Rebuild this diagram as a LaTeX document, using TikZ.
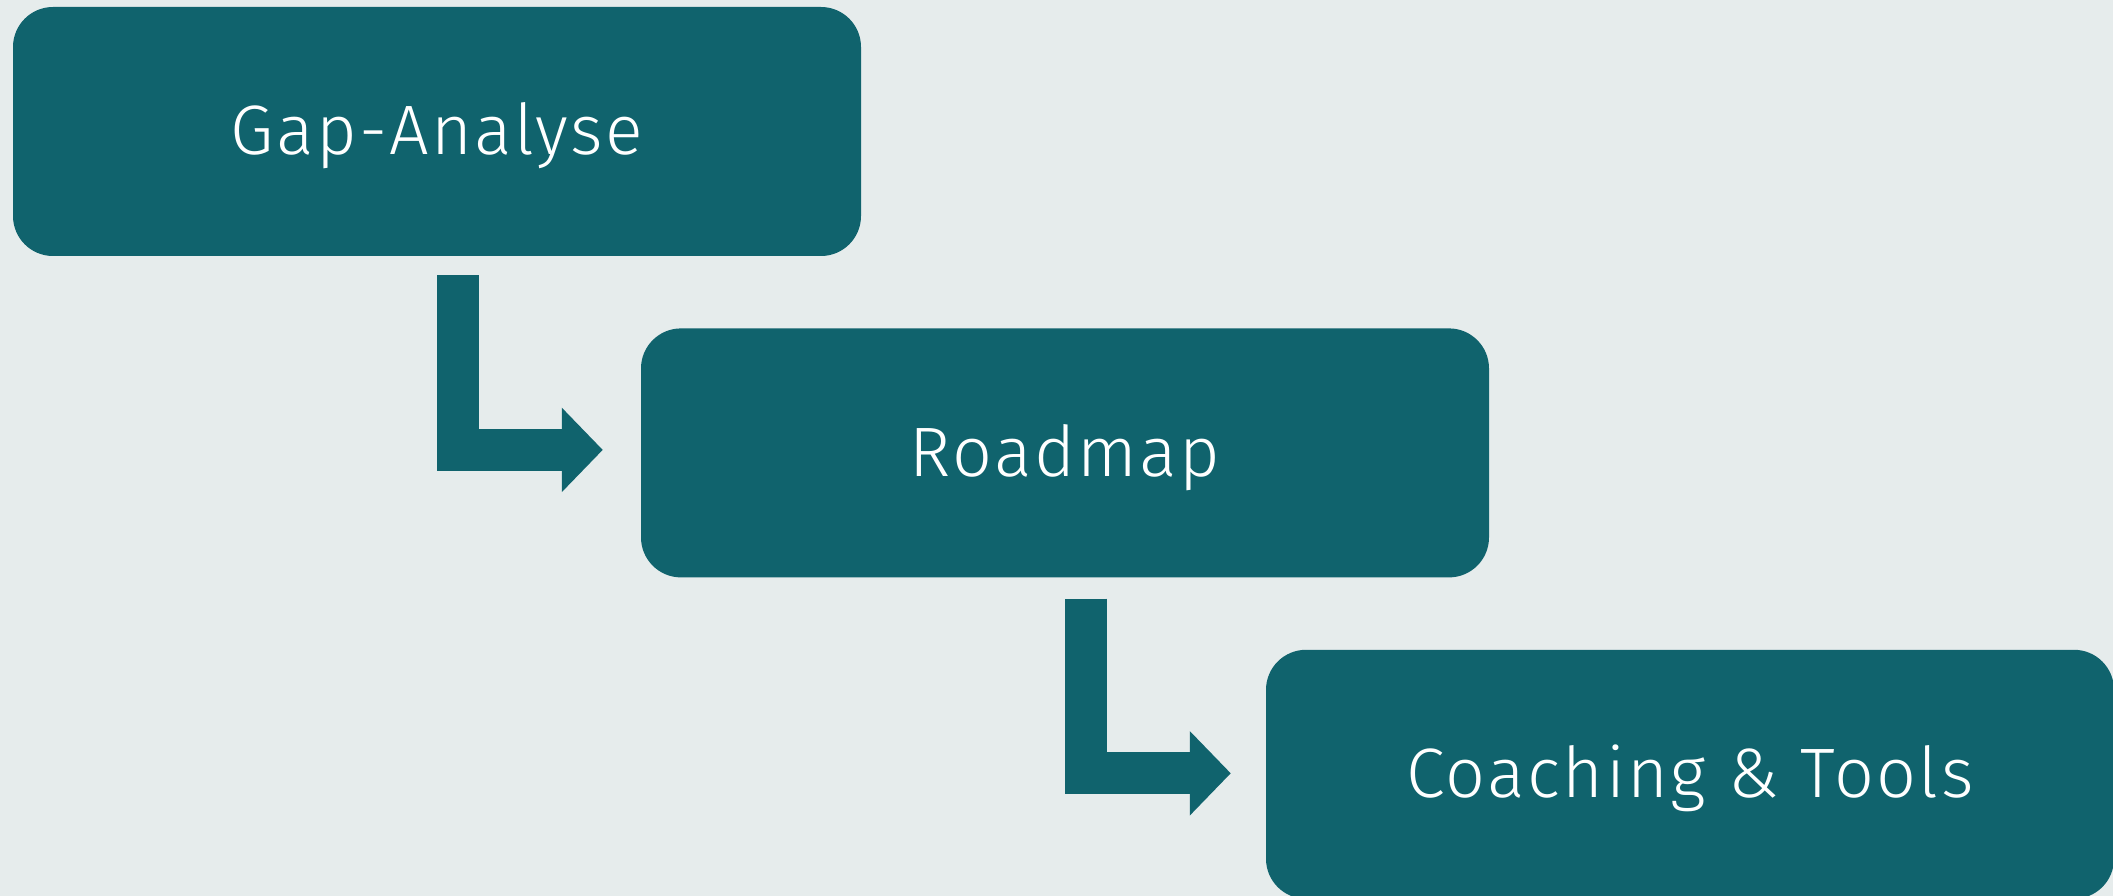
\documentclass[tikz,border=0pt]{standalone}
\usepackage{fontspec}
\setmainfont[LetterSpace=3.5]{Fira Sans Light}
\usetikzlibrary{positioning, arrows.meta}

\definecolor{bgcol}{RGB}{230,236,236}
\definecolor{petrol}{RGB}{16,99,109}

\tikzset{
  phase/.style={rectangle, rounded corners=40pt, fill=petrol, text=white,
    minimum width=848pt, minimum height=249pt, inner sep=0pt,
    text height=47pt, text depth=0pt, font=\fontsize{70pt}{84pt}\selectfont},
  flow/.style={draw=petrol, line width=42pt, line join=miter,
    -{Triangle[length=41pt, width=82pt]}}
}

\begin{document}
\begin{tikzpicture}[node distance=72pt]
	\fill[bgcol] (0,0) rectangle (2113pt,-896pt);
	\useasboundingbox (0,0) rectangle (2113pt,-896pt);
	\node[phase] (gap) at (437pt,-131.5pt) {Gap-Analyse};
	\node[phase, below=of gap, xshift=628pt] (road) {Roadmap};
	\node[phase, below=of road, xshift=625pt] (coach) {Coaching \& Tools};
	\draw[flow] ([xshift=21pt, yshift=-19pt]gap.south) |- ([xshift=-38pt, yshift=3pt]road.west);
	\draw[flow] ([xshift=21pt, yshift=-21pt]road.south) |- ([xshift=-35pt, yshift=1pt]coach.west);
\end{tikzpicture}
\end{document}
